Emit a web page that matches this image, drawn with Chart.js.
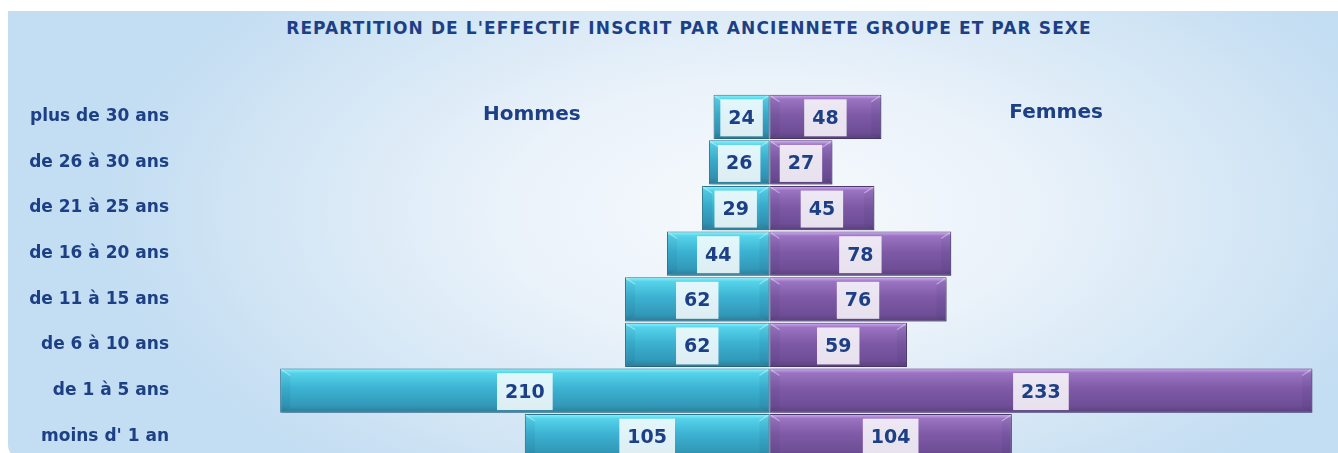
<!DOCTYPE html>
<html>
<head>
<meta charset="utf-8">
<script src="https://cdn.jsdelivr.net/npm/chart.js@4.4.1/dist/chart.umd.min.js"></script>
<style>
  html, body { margin: 0; padding: 0; background: #fff; overflow: hidden; width: 1338px; height: 453px; }
  #panel {
    position: absolute; left: 8px; top: 11px; width: 1330px; height: 448px;
    border-bottom-left-radius: 14px;
    background: radial-gradient(ellipse 50% 75% at 57% 45%, #f7fafd 0%, #eaf2fa 40%, #d3e6f5 75%, #c3ddf2 100%);
  }
  #titre {
    position: absolute; left: 0; top: 18px; width: 1378px; text-align: center;
    font: bold 17px "DejaVu Sans", sans-serif; color: #1d3f86; letter-spacing: 1.1px;
  }
  #pyramide { position: absolute; left: 8px; top: 11px; }
</style>
</head>
<body>
<div id="panel"></div>
<div id="titre">REPARTITION DE L'EFFECTIF INSCRIT PAR ANCIENNETE GROUPE ET PAR SEXE</div>
<canvas id="pyramide" width="1330" height="448"></canvas>
<script>
// Tranches d'ancienneté (du haut vers le bas)
const categories = ['plus de 30 ans', 'de 26 à 30 ans', 'de 21 à 25 ans', 'de 16 à 20 ans',
    'de 11 à 15 ans', 'de 6 à 10 ans', 'de 1 à 5 ans', "moins d' 1 an"];
const hommes = [24, 26, 29, 44, 62, 62, 210, 105];
const femmes = [48, 27, 45, 78, 76, 59, 233, 104];

const BLEU_TEXTE = '#1d3f86';
const POLICE = '"DejaVu Sans", sans-serif';

// dégradé vertical pour donner l'effet "biseau"
function degrade(stops, fallback) {
    return function (ctx) {
        const chart = ctx.chart;
        if (!chart.chartArea || ctx.dataIndex === undefined) return fallback;
        const y = chart.scales.y.getPixelForValue(ctx.dataIndex);
        const h = 22;
        const g = chart.ctx.createLinearGradient(0, y - h, 0, y + h);
        stops.forEach(s => g.addColorStop(s[0], s[1]));
        return g;
    };
}

const ombrePlugin = {
    id: 'ombre',
    beforeDatasetDraw(chart) {
        const c = chart.ctx;
        c.save();
        c.shadowColor = 'rgba(40, 50, 80, 0.35)';
        c.shadowBlur = 4;
        c.shadowOffsetX = 2;
        c.shadowOffsetY = 3;
    },
    afterDatasetDraw(chart, args) {
        const c = chart.ctx;
        c.restore();
        // biseaux aux deux bouts de chaque barre
        c.save();
        args.meta.data.forEach(bar => {
            const h = bar.height / 2;
            const top = bar.y - h, bot = bar.y + h;
            [[bar.x, Math.sign(bar.base - bar.x)], [bar.base, Math.sign(bar.x - bar.base)]].forEach(([xo, sg]) => {
                const xi = xo + sg * 10;
                c.beginPath();
                c.moveTo(xo, top); c.lineTo(xi, top + 7); c.lineTo(xi, bot - 5); c.lineTo(xo, bot);
                c.closePath();
                c.fillStyle = 'rgba(0, 20, 50, 0.05)';
                c.fill();
                c.beginPath();
                c.moveTo(xo + sg, top + 1); c.lineTo(xi, top + 7);
                c.strokeStyle = 'rgba(255, 255, 255, 0.4)';
                c.lineWidth = 1.2;
                c.stroke();
            });
        });
        c.restore();
    }
};

// étiquettes de valeur dans un cadre clair au centre de chaque barre
const etiquettesPlugin = {
    id: 'etiquettes',
    afterDatasetsDraw(chart) {
        const c = chart.ctx;
        c.save();
        c.font = 'bold 19px ' + POLICE;
        c.textAlign = 'center';
        c.textBaseline = 'middle';
        chart.data.datasets.forEach((ds, i) => {
            chart.getDatasetMeta(i).data.forEach((bar, j) => {
                const txt = String(Math.abs(ds.data[j]));
                const cx = (bar.x + bar.base) / 2;
                const w = c.measureText(txt).width + 16;
                c.fillStyle = 'rgba(255, 255, 255, 0.84)';
                c.fillRect(cx - w / 2, bar.y - 17.5, w, 37);
                c.fillStyle = BLEU_TEXTE;
                c.fillText(txt, cx, bar.y + 2);
            });
        });
        // noms des séries
        c.font = 'bold 20px ' + POLICE;
        const y0 = chart.scales.y.getPixelForValue(0) - 2;
        c.fillText('Hommes', chart.scales.x.getPixelForValue(-102), y0);
        c.fillText('Femmes', chart.scales.x.getPixelForValue(123), y0 - 2);
        c.restore();
    }
};

new Chart(document.getElementById('pyramide'), {
    type: 'bar',
    data: {
        labels: categories,
        datasets: [{
            label: 'Hommes',
            data: hommes.map(v => -v),
            backgroundColor: degrade([[0, '#86f7ff'], [0.1, '#55d3ea'], [0.45, '#3cb2d2'], [0.85, '#3298b8'], [1, '#2a7c96']], '#3aaccd'),
            borderColor: '#2b7891',
            borderWidth: 1,
            borderSkipped: false
        }, {
            label: 'Femmes',
            data: femmes,
            backgroundColor: degrade([[0, '#d3acf5'], [0.1, '#9a74c2'], [0.45, '#7f5aa6'], [0.85, '#6e4e96'], [1, '#5a3f7d']], '#7f5aa6'),
            borderColor: '#4f3870',
            borderWidth: 1,
            borderSkipped: false
        }]
    },
    options: {
        indexAxis: 'y',
        responsive: false,
        animation: false,
        layout: { padding: { top: 83, left: 0, right: 0, bottom: 0 } },
        datasets: { bar: { categoryPercentage: 1, barPercentage: 0.97 } },
        scales: {
            x: {
                stacked: true,
                min: -250,
                max: 244,
                display: false
            },
            y: {
                stacked: true,
                grid: { display: false, drawTicks: false },
                border: { display: false },
                ticks: {
                    padding: 18,
                    color: BLEU_TEXTE,
                    font: { family: 'DejaVu Sans', weight: 'bold', size: 17 }
                },
                afterFit(scale) {
                    scale.width = 179;
                    scale.paddingTop = 0;
                    scale.paddingBottom = 0;
                }
            }
        },
        plugins: {
            legend: { display: false },
            tooltip: { enabled: false }
        }
    },
    plugins: [ombrePlugin, etiquettesPlugin]
});
</script>
</body>
</html>
